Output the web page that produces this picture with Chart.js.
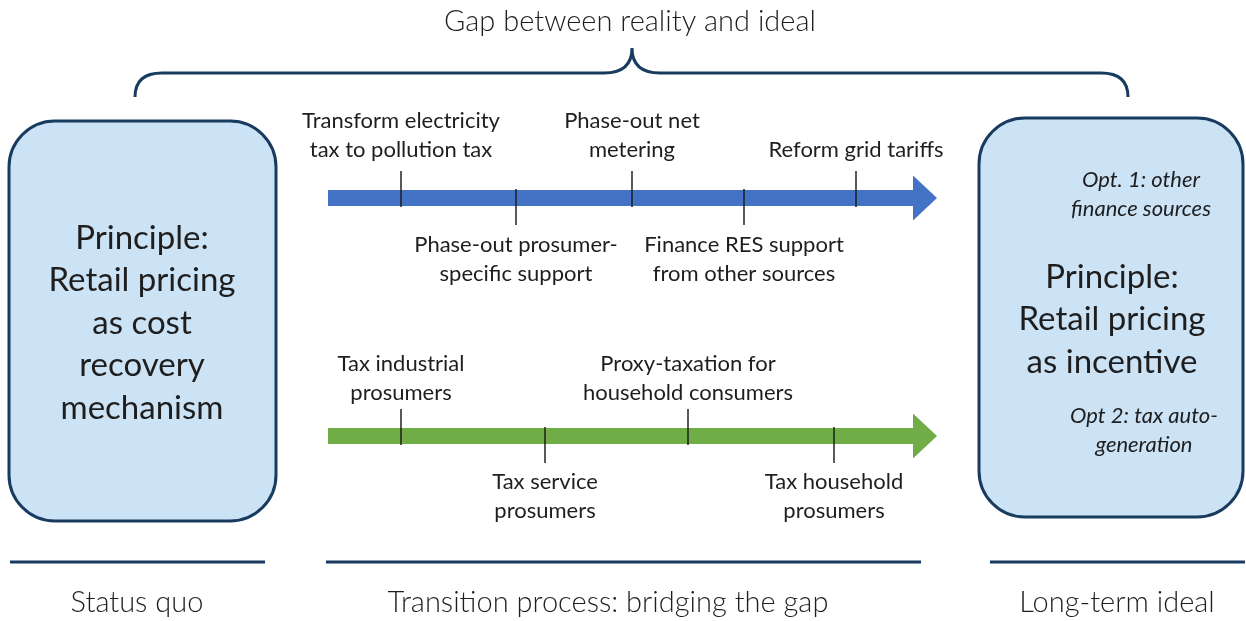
<!DOCTYPE html>
<html>
<head>
<meta charset="utf-8">
<script src="https://cdn.jsdelivr.net/npm/chart.js@4.4.1/dist/chart.umd.min.js"></script>
<style>
  html, body { margin: 0; padding: 0; background: #ffffff; }
  #wrap { position: relative; width: 1246px; height: 621px; }
</style>
</head>
<body>
<div id="wrap"><canvas id="c"></canvas></div>
<script>
// ---------- data ----------
const titleText = "Gap between reality and ideal";
const phaseLabels = ["Status quo", "Transition process: bridging the gap", "Long-term ideal"];

const statusQuoLines = ["Principle:", "Retail pricing", "as cost", "recovery", "mechanism"];
const idealLines = ["Principle:", "Retail pricing", "as incentive"];
const idealOption1 = ["Opt. 1: other", "finance sources"];
const idealOption2 = ["Opt 2: tax auto-", "generation"];

const blueMilestones = [
  ["Transform electricity", "tax to pollution tax"],
  ["Phase-out prosumer-", "specific support"],
  ["Phase-out net", "metering"],
  ["Finance RES support", "from other sources"],
  ["Reform grid tariffs"]
];
const bluePositions = [401, 516, 632, 744, 856];
const blueSides = ["above", "below", "above", "below", "above"];

const greenMilestones = [
  ["Tax industrial", "prosumers"],
  ["Tax service", "prosumers"],
  ["Proxy-taxation for", "household consumers"],
  ["Tax household", "prosumers"]
];
const greenPositions = [401, 545, 688, 834];
const greenSides = ["above", "below", "above", "below"];

// ---------- layout / style ----------
const W = 1246, H = 621;
const FONT = "Lato, 'Open Sans', sans-serif";
const TEXT = "#1e1e1e";
const NAVY = "#183b5f";
const BLUE = "#4472c4";
const GREEN = "#70ad47";
const BOX_FILL = "#cce2f5";

const lanes = [
  { y: 198, start: 328, shaftEnd: 914, tip: 937, half: 8, head: 22.5, color: BLUE, gapAbove: 48, gapBelow: 47,
    names: blueMilestones, pos: bluePositions, sides: blueSides },
  { y: 436, start: 328, shaftEnd: 914, tip: 937, half: 8, head: 22.5, color: GREEN, gapAbove: 43, gapBelow: 46,
    names: greenMilestones, pos: greenPositions, sides: greenSides }
];
const TICK_HALF = 18;
const TICK_SHIFT = 9;

function tickData(lane) {
  return lane.pos.map((p, i) => ({ x: p, y: lane.y + (lane.sides[i] === "above" ? -TICK_SHIFT : TICK_SHIFT) }));
}

const datasets = [];
lanes.forEach((lane) => {
  datasets.push({
    type: "line",
    data: [{ x: lane.start, y: lane.y }, { x: lane.shaftEnd, y: lane.y }],
    borderColor: lane.color,
    borderWidth: lane.half * 2,
    borderCapStyle: "butt",
    pointRadius: 0,
    order: 3
  });
  datasets.push({
    type: "scatter",
    data: tickData(lane),
    pointStyle: "line",
    rotation: 90,
    pointRadius: TICK_HALF,
    borderColor: "rgba(25,25,25,0.9)",
    borderWidth: 1.6,
    order: 1
  });
});

function px(chart, x) { return chart.scales.x.getPixelForValue(x); }
function py(chart, y) { return chart.scales.y.getPixelForValue(y); }

function roundRect(ctx, x, y, w, h, r) {
  ctx.beginPath();
  ctx.moveTo(x + r, y);
  ctx.lineTo(x + w - r, y);
  ctx.arcTo(x + w, y, x + w, y + r, r);
  ctx.lineTo(x + w, y + h - r);
  ctx.arcTo(x + w, y + h, x + w - r, y + h, r);
  ctx.lineTo(x + r, y + h);
  ctx.arcTo(x, y + h, x, y + h - r, r);
  ctx.lineTo(x, y + r);
  ctx.arcTo(x, y, x + r, y, r);
  ctx.closePath();
}

function drawLines(ctx, lines, cx, firstY, step, font) {
  ctx.font = font;
  ctx.fillStyle = TEXT;
  ctx.textAlign = "center";
  ctx.textBaseline = "middle";
  lines.forEach((t, i) => ctx.fillText(t, cx, firstY + i * step));
}

const diagramPlugin = {
  id: "diagram",
  beforeDatasetsDraw(chart) {
    const ctx = chart.ctx;
    ctx.save();
    const boxes = [
      { x0: 9, y0: 121, x1: 276, y1: 521 },
      { x0: 979, y0: 118, x1: 1243, y1: 517 }
    ];
    boxes.forEach(b => {
      const x0 = px(chart, b.x0), x1 = px(chart, b.x1), y0 = py(chart, b.y0), y1 = py(chart, b.y1);
      roundRect(ctx, x0, y0, x1 - x0, y1 - y0, 46);
      ctx.fillStyle = BOX_FILL;
      ctx.fill();
      ctx.lineWidth = 3;
      ctx.strokeStyle = NAVY;
      ctx.stroke();
    });
    // brace
    ctx.beginPath();
    ctx.moveTo(px(chart, 135), py(chart, 97));
    ctx.quadraticCurveTo(px(chart, 135), py(chart, 73), px(chart, 162), py(chart, 73));
    ctx.lineTo(px(chart, 604), py(chart, 73));
    ctx.quadraticCurveTo(px(chart, 632), py(chart, 73), px(chart, 632), py(chart, 48));
    ctx.quadraticCurveTo(px(chart, 632), py(chart, 73), px(chart, 660), py(chart, 73));
    ctx.lineTo(px(chart, 1101), py(chart, 73));
    ctx.quadraticCurveTo(px(chart, 1128), py(chart, 73), px(chart, 1128), py(chart, 97));
    ctx.lineWidth = 3;
    ctx.strokeStyle = NAVY;
    ctx.stroke();
    // phase underlines
    const segs = [[10, 265], [326, 921], [990, 1245]];
    ctx.lineWidth = 3;
    segs.forEach(s => {
      ctx.beginPath();
      ctx.moveTo(px(chart, s[0]), py(chart, 562));
      ctx.lineTo(px(chart, s[1]), py(chart, 562));
      ctx.stroke();
    });
    // arrow heads
    lanes.forEach(l => {
      ctx.beginPath();
      ctx.moveTo(px(chart, l.shaftEnd - 1), py(chart, l.y - l.head));
      ctx.lineTo(px(chart, l.tip), py(chart, l.y));
      ctx.lineTo(px(chart, l.shaftEnd - 1), py(chart, l.y + l.head));
      ctx.closePath();
      ctx.fillStyle = l.color;
      ctx.fill();
    });
    ctx.restore();
  },
  afterDatasetsDraw(chart) {
    const ctx = chart.ctx;
    ctx.save();
    drawLines(ctx, [titleText], px(chart, 630), py(chart, 22), 0, "300 29px " + FONT);
    drawLines(ctx, statusQuoLines, px(chart, 142), py(chart, 238), 42.5, "33px " + FONT);
    drawLines(ctx, idealLines, px(chart, 1112), py(chart, 277), 42.5, "33px " + FONT);
    drawLines(ctx, idealOption1, px(chart, 1141), py(chart, 180), 28.5, "italic 22px " + FONT);
    drawLines(ctx, idealOption2, px(chart, 1144), py(chart, 416), 28.5, "italic 22px " + FONT);
    lanes.forEach(l => {
      l.names.forEach((lines, i) => {
        const cx = px(chart, l.pos[i]);
        const first = l.sides[i] === "above" ? l.y - l.gapAbove - (lines.length - 1) * 29 : l.y + l.gapBelow;
        drawLines(ctx, lines, cx, py(chart, first), 29, "22px " + FONT);
      });
    });
    const phaseX = [137, 608, 1117];
    phaseLabels.forEach((t, i) => {
      drawLines(ctx, [t], px(chart, phaseX[i]), py(chart, 603), 0, "300 29px " + FONT);
    });
    ctx.restore();
  }
};

new Chart(document.getElementById("c"), {
  type: "scatter",
  data: { datasets },
  options: {
    responsive: true,
    maintainAspectRatio: false,
    animation: false,
    events: [],
    layout: { padding: 0, autoPadding: false },
    plugins: { legend: { display: false }, tooltip: { enabled: false }, title: { display: false } },
    scales: {
      x: { type: "linear", min: 0, max: W, display: false },
      y: { type: "linear", min: 0, max: H, reverse: true, display: false }
    }
  },
  plugins: [diagramPlugin]
});
</script>
</body>
</html>
